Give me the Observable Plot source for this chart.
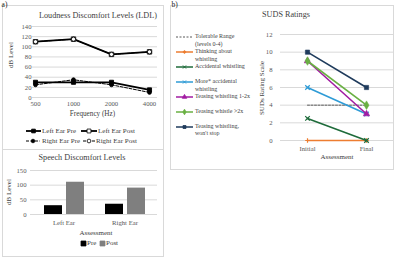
<!DOCTYPE html>
<html><head><meta charset="utf-8">
<script src="https://cdn.jsdelivr.net/npm/d3@7"></script>
<script src="https://cdn.jsdelivr.net/npm/@observablehq/plot@0.6"></script>
<style>
body{margin:0;background:#fff;}
#root{position:relative;width:400px;height:257px;overflow:hidden;font-family:"Liberation Serif",serif;color:#404040;}
.box{position:absolute;border:1px solid #d9d9d9;box-sizing:border-box;}
.t{position:absolute;transform:translate(-50%,-50%);white-space:nowrap;line-height:1;}
.rot{position:absolute;transform:translate(-50%,-50%) rotate(-90deg);white-space:nowrap;line-height:1;}
.lab{position:absolute;white-space:pre;line-height:7.5px;}
.plot{position:absolute;}
</style></head>
<body><div id="root"></div>
<script>
// ---------- data ----------
const freqs = ["500","1000","2000","4000"];
const leftPre = [30,30,30,15];
const leftPost = [110,115,85,90];
const rightPre = [25,35,25,10];
const rightPost = [110,115,85,90];
const ldlTicks = [0,20,40,60,80,100,120,140];

const ears = ["Left Ear","Right Ear"];
const sdlPre = [30,35];
const sdlPost = [110,90];
const sdlTicks = [0,50,100,150];

const stages = ["Initial","Final"];
const sudsSeries = ["Tolerable Range (levels 0-4)","Thinking about whistling","Accidental whistling","More* accidental whistling","Teasing whistling 1-2x","Teasing whistle >2x","Teasing whistling, won't stop"];
const sudsLegendLabels = ["Tolerable Range\n(levels 0-4)","Thinking about\nwhistling","Accidental whistling","More* accidental\nwhistling","Teasing whistling 1-2x","Teasing whistle >2x","Teasing whistling,\nwon't stop"];
const sudsInitial = [4,0,2.5,6,9,9,10];
const sudsFinal = [4,0,0,3,3,4,6];
const sudsTicks = [0,2,4,6,8,10,12];

// ---------- styles ----------
const ldlNames = ["Left Ear Pre","Left Ear Post","Right Ear Pre","Right Ear Post"];
const ldlVals = [leftPre,leftPost,rightPre,rightPost];
const ldlStyle = [
  {dash:null, w:1.8, symbol:"square", fill:"#000", r:2.3},
  {dash:null, w:1.8, symbol:"square", fill:"#fff", r:2.5},
  {dash:"3,1.5", w:1, symbol:"circle", fill:"#000", r:1.9},
  {dash:"3,1.5", w:1, symbol:"circle", fill:"#fff", r:2.1}
];
const sudsStyle = [
  {color:"#595959", dash:"2,1.5", symbol:null, w:1},
  {color:"#ED7D31", symbol:"plus", w:1.6, r:1.6},
  {color:"#1E6B3A", symbol:"times", w:1.6, r:2.2},
  {color:"#2E9BD6", symbol:"times", w:1.6, r:2.2},
  {color:"#A21CA2", symbol:"triangle", w:1.6, r:2.4},
  {color:"#6AB043", symbol:"diamond", w:1.6, r:2.6},
  {color:"#1F3B5C", symbol:"square", w:1.6, r:2.4}
];
const barColors = ["#000000","#7f7f7f"];
const gridColor = "#d9d9d9";
const tickStyle = {fontFamily:"Liberation Serif", fontSize:"6.7px", color:"#595959", background:"transparent", overflow:"visible"};

const root = document.getElementById("root");
function box(l,t,w,h){const d=document.createElement("div");d.className="box";Object.assign(d.style,{left:l+"px",top:t+"px",width:w+"px",height:h+"px"});root.appendChild(d);}
function txt(s,x,y,size,rot,color){const d=document.createElement("div");d.className=rot?"rot":"t";d.textContent=s;Object.assign(d.style,{left:x+"px",top:y+"px",fontSize:size+"px"});if(color)d.style.color=color;root.appendChild(d);}
function lab(s,x,y,size){const d=document.createElement("div");d.className="lab";d.textContent=s;Object.assign(d.style,{left:x+"px",top:y+"px",fontSize:size+"px"});root.appendChild(d);}
function put(svg,l,t){svg.classList.add("plot");svg.style.left=l+"px";svg.style.top=t+"px";root.appendChild(svg);}
const symMap = {square:d3.symbolSquare, circle:d3.symbolCircle, diamond:d3.symbolDiamond, triangle:d3.symbolTriangle, times:d3.symbolTimes, plus:d3.symbolCross};
function swatch(l,t,w,h,stroke,sw,dash,symbol,r,fill){
  const ns="http://www.w3.org/2000/svg";
  const s=document.createElementNS(ns,"svg");s.setAttribute("width",w);s.setAttribute("height",h);
  s.style.position="absolute";s.style.left=l+"px";s.style.top=t+"px";s.style.overflow="visible";
  if(sw>0){
    const ln=document.createElementNS(ns,"line");
    ln.setAttribute("x1",0);ln.setAttribute("x2",w);ln.setAttribute("y1",h/2);ln.setAttribute("y2",h/2);
    ln.setAttribute("stroke",stroke);ln.setAttribute("stroke-width",sw);if(dash)ln.setAttribute("stroke-dasharray",dash);
    s.appendChild(ln);
  }
  if(symbol){
    const p=document.createElementNS(ns,"path");
    p.setAttribute("d",d3.symbol().type(symMap[symbol]).size(Math.PI*r*r)());
    p.setAttribute("transform",`translate(${w/2},${h/2})`);
    const strokeOnly = symbol==="times";
    p.setAttribute("fill",strokeOnly?"none":(fill||stroke));
    p.setAttribute("stroke",stroke);p.setAttribute("stroke-width",strokeOnly?1:0.8);
    s.appendChild(p);
  }
  root.appendChild(s);
}

// ---------- frames ----------
box(2,5,162,145);
box(2,149,162,108);
box(170,5,224,165);
txt("a)",4.5,5,7.5,false,"#222");
txt("b)",174.5,5,7.5,false,"#222");

// ---------- LDL line chart ----------
const ldlRows = ldlNames.flatMap((s,i)=>freqs.map((f,j)=>({series:s, freq:f, value:ldlVals[i][j]})));
const rowsOf = n => ldlRows.filter(d=>d.series===n);
const ldlLine = i => Plot.line(rowsOf(ldlNames[i]),{x:"freq",y:"value",stroke:"#000",strokeWidth:ldlStyle[i].w,strokeDasharray:ldlStyle[i].dash});
const ldlDot = i => Plot.dot(rowsOf(ldlNames[i]),{x:"freq",y:"value",symbol:ldlStyle[i].symbol,r:ldlStyle[i].r,fill:ldlStyle[i].fill,stroke:"#000",strokeWidth:0.9});
const ldl = Plot.plot({
  width:165, height:130, marginLeft:32, marginRight:8, marginTop:26, marginBottom:33,
  style:tickStyle,
  x:{type:"point", domain:freqs, padding:0, insetLeft:2, insetRight:7, tickSize:0, tickPadding:4, label:null},
  y:{domain:[0,140], ticks:ldlTicks, tickSize:0, tickPadding:1, label:null},
  marks:[
    Plot.ruleY(ldlTicks,{stroke:gridColor}),
    ldlLine(2), ldlLine(3), ldlLine(0), ldlLine(1),
    ldlDot(1), ldlDot(3), ldlDot(0), ldlDot(2)
  ]
});
put(ldl,0,0);
txt("Loudness Discomfort Levels (LDL)",98,16,8.2);
txt("Frequency (Hz)",92.5,114.5,7.2);
txt("dB Level",11,55,7,true);
// legend
swatch(26,128,15,6,"#000",1.8,null,"square",2.1,"#000"); lab(ldlNames[0],42,127.5,7);
swatch(81,128,16,6,"#000",1.8,null,"square",2.2,"#fff"); lab(ldlNames[1],98,127.5,7);
swatch(26,138,14,6,"#000",1,"3,1.5","circle",1.8,"#000"); lab(ldlNames[2],42,137.5,7);
swatch(83,138,12,6,"#000",1,"3,1.5","circle",1.9,"#fff"); lab(ldlNames[3],96,137.5,7);

// ---------- Speech discomfort bars ----------
const whens = ["Pre","Post"];
const barRows = ears.flatMap((e,i)=>[{ear:e, when:"Pre", value:sdlPre[i]},{ear:e, when:"Post", value:sdlPost[i]}]);
const sdlCommon = {width:165, height:90, marginLeft:30, marginRight:8, marginTop:21, marginBottom:25, style:tickStyle};
const sdlGrid = Plot.plot({
  ...sdlCommon,
  y:{domain:[0,150], ticks:sdlTicks, tickSize:0, tickPadding:4, label:null},
  marks:[Plot.ruleY(sdlTicks,{stroke:gridColor})]
});
put(sdlGrid,0,149);
const sdlBars = Plot.plot({
  ...sdlCommon,
  facet:{data:barRows, x:"ear"},
  fx:{domain:ears, paddingInner:0.27, paddingOuter:0.175, label:null, tickSize:0, tickPadding:6, axis:"bottom"},
  x:{domain:whens, paddingInner:0.2, paddingOuter:0.1, axis:null},
  y:{domain:[0,150], axis:null},
  color:{domain:whens, range:barColors},
  marks:[Plot.barY(barRows,{x:"when", y:"value", fill:"when"})]
});
put(sdlBars,0,149);
txt("Speech Discomfort Levels",82,158,8.2);
txt("Assessment",96,233,7);
txt("dB Level",9,192,7,true);
swatch(81,240.5,5,5,barColors[0],0,null,"square",2.8,barColors[0]); lab(whens[0],87,239.5,7);
swatch(100,240.5,5,5,barColors[1],0,null,"square",2.8,barColors[1]); lab(whens[1],106,239.5,7);

// ---------- SUDS ratings ----------
const sudsRows = sudsSeries.flatMap((s,i)=>[{series:s, stage:stages[0], value:sudsInitial[i]},{series:s, stage:stages[1], value:sudsFinal[i]}]);
const sudsMarks = [Plot.ruleY(sudsTicks,{stroke:gridColor})];
sudsSeries.forEach((s,i)=>{
  const st = sudsStyle[i];
  const rows = sudsRows.filter(d=>d.series===s);
  sudsMarks.push(Plot.line(rows,{x:"stage",y:"value",stroke:st.color,strokeWidth:st.w,strokeDasharray:st.dash}));
  if(st.symbol){
    const strokeOnly = st.symbol==="times"||st.symbol==="plus";
    sudsMarks.push(Plot.dot(rows,{x:"stage",y:"value",symbol:st.symbol,r:st.r,
      fill:strokeOnly?"none":st.color, stroke:st.color, strokeWidth:strokeOnly?1.2:0.6}));
  }
});
const suds = Plot.plot({
  width:145, height:160, marginLeft:25, marginRight:6, marginTop:34, marginBottom:20,
  style:tickStyle,
  x:{type:"point", domain:stages, padding:0, insetLeft:27, insetRight:28, tickSize:0, tickPadding:6, label:null},
  y:{domain:[0,12], ticks:sudsTicks, tickSize:0, tickPadding:8, label:null},
  marks:sudsMarks
});
put(suds,255,0);
txt("SUDS Ratings",286,15,8.2);
txt("Assessment",337,157,7);
txt("SUDs Rating Scale",262,88,7,true);
sudsSeries.forEach((s,i)=>{
  const st = sudsStyle[i];
  const cy = 37 + 15*i - (i>=5 ? 0.5 : 0);
  swatch(176,cy-3,17,6,st.color,st.dash?1:1.5,st.dash,st.symbol,st.r?Math.min(st.r*0.7,1.7):0,st.color);
  lab(sudsLegendLabels[i],195,cy-3.75,6);
});
</script>
</body></html>
